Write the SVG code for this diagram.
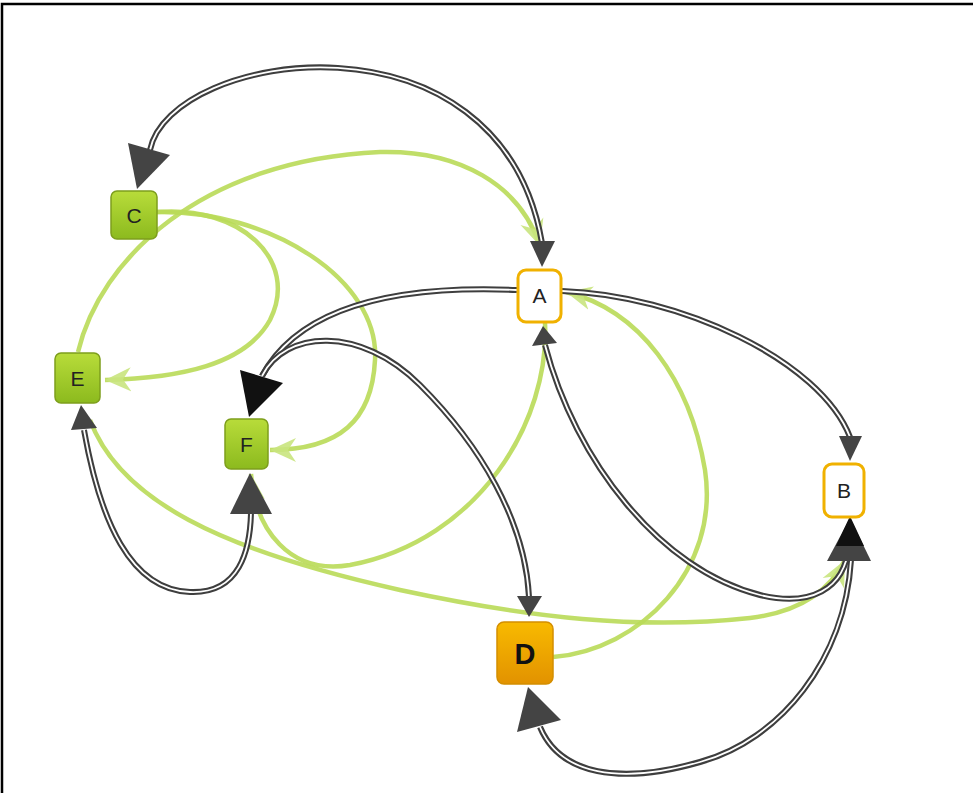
<svg xmlns="http://www.w3.org/2000/svg" width="973" height="793" viewBox="0 0 973 793">
<style>
.frame{fill:#fff;stroke:#000;stroke-width:2.5}
.dk{fill:none;stroke:#3e3e3e;stroke-width:6}
.dki{fill:none;stroke:#fff;stroke-width:1.8}
.gr{fill:none;stroke:#b9da58;stroke-width:4.5;stroke-opacity:0.9}
.ah{fill:#444}
.ahb{fill:#111}
.gn rect{fill:url(#gGreen);stroke:#7d9e1c;stroke-width:1.5}
.wn rect{fill:#fff;stroke:#f0b100;stroke-width:3}
.dn rect{fill:url(#gOrange);stroke:#d48e00;stroke-width:1.5}
text{font-family:"Liberation Sans",Arial,sans-serif;font-size:21px;fill:#222;text-anchor:middle}
.dn text{font-weight:bold;font-size:29px;fill:#111}
</style>
<defs>
<linearGradient id="gGreen" x1="0" y1="0" x2="0" y2="1">
<stop offset="0" stop-color="#b8dc3a"/><stop offset="1" stop-color="#8cba1e"/>
</linearGradient>
<linearGradient id="gOrange" x1="0" y1="0" x2="0" y2="1">
<stop offset="0" stop-color="#f8ba00"/><stop offset="1" stop-color="#e29200"/>
</linearGradient>
<marker id="mg" viewBox="0 0 28 28" refX="26" refY="14" markerWidth="28" markerHeight="28" markerUnits="userSpaceOnUse" orient="auto">
<path d="M26,14 L0,2 L8,14 L0,26 z" fill="#c9e47e" fill-opacity="0.9"/>
</marker>
</defs>
<rect class="frame" x="2" y="4" width="1000" height="1000"/>
<g id="connectors">
<path class="gr" d="M78,352 C100,260 200,160 380,152 C460,150 520,185 540,246" marker-end="url(#mg)"/>
<path class="gr" d="M157,212 C240,205 300,260 270,320 C245,365 180,378 105,380" marker-end="url(#mg)"/>
<path class="gr" d="M157,212 C270,210 380,280 375,360 C372,420 340,450 270,450" marker-end="url(#mg)"/>
<path class="gr" d="M553,657 C640,650 720,570 705,470 C690,380 640,310 566,292" marker-end="url(#mg)"/>
<path class="gr" d="M90,420 C120,500 220,550 400,590 C530,618 640,630 750,618 C800,612 830,590 845,560" marker-end="url(#mg)"/>
<path class="gr" d="M545,323 C550,420 480,540 350,565 C290,575 255,530 251,474" marker-end="url(#mg)"/>
<g id="e-CA">
<path class="dk" d="M150,150 C170,50 500,0 542,243"/><path class="dki" d="M150,150 C170,50 500,0 542,243"/>
<polygon class="ah" points="128,143 170,155 137,189"/>
<polygon class="ah" points="530,241 555,241 542,267"/>
</g>
<g id="e-AF">
<path class="dk" d="M517,290 C400,285 300,305 262,376"/><path class="dki" d="M517,290 C400,285 300,305 262,376"/>
</g>
<g id="e-FD">
<path class="dk" d="M262,376 C285,330 360,325 420,385 C480,445 525,520 529,597"/><path class="dki" d="M262,376 C285,330 360,325 420,385 C480,445 525,520 529,597"/>
<polygon class="ahb" points="240,370 283,383 249,417"/>
<polygon class="ah" points="517,596 542,596 529,617"/>
</g>
<g id="e-AB">
<path class="dk" d="M562,291 C680,295 820,360 850,437"/><path class="dki" d="M562,291 C680,295 820,360 850,437"/>
<polygon class="ah" points="839,436 862,436 850,461"/>
</g>
<g id="e-BA">
<path class="dk" d="M545,345 C575,460 660,570 760,595 C810,607 845,590 849,545"/><path class="dki" d="M545,345 C575,460 660,570 760,595 C810,607 845,590 849,545"/>
<polygon class="ah" points="532,346 557,343 543,326"/>
</g>
<g id="e-DB">
<path class="dk" d="M540,727 C560,775 620,785 700,762 C780,740 845,660 851,560"/><path class="dki" d="M540,727 C560,775 620,785 700,762 C780,740 845,660 851,560"/>
<polygon class="ah" points="528,687 561,720 517,732"/>
<polygon class="ah" points="827,561 871,561 850,518"/>
<polygon class="ahb" points="836,546 864,546 850,516"/>
</g>
<g id="e-EF">
<path class="dk" d="M84,430 C100,520 130,590 190,592 C240,594 250,550 251,513"/><path class="dki" d="M84,430 C100,520 130,590 190,592 C240,594 250,550 251,513"/>
<polygon class="ah" points="71,430 97,428 81,405"/>
<polygon class="ah" points="230,514 272,514 250,473"/>
</g>
</g>
<g id="node-C" class="gn"><rect x="111" y="191" width="46" height="48" rx="6"/><text x="134" y="222.5">C</text></g>
<g id="node-E" class="gn"><rect x="55" y="353" width="45" height="50" rx="6"/><text x="77.5" y="385.5">E</text></g>
<g id="node-F" class="gn"><rect x="225" y="419" width="43" height="50" rx="6"/><text x="246.5" y="451.5">F</text></g>
<g id="node-A" class="wn"><rect x="518" y="270" width="43" height="52" rx="8"/><text x="539.5" y="303">A</text></g>
<g id="node-B" class="wn"><rect x="824" y="464" width="40" height="53" rx="8"/><text x="844" y="498">B</text></g>
<g id="node-D" class="dn"><rect x="497" y="622" width="56" height="62" rx="7"/><text x="525" y="664">D</text></g>
</svg>
